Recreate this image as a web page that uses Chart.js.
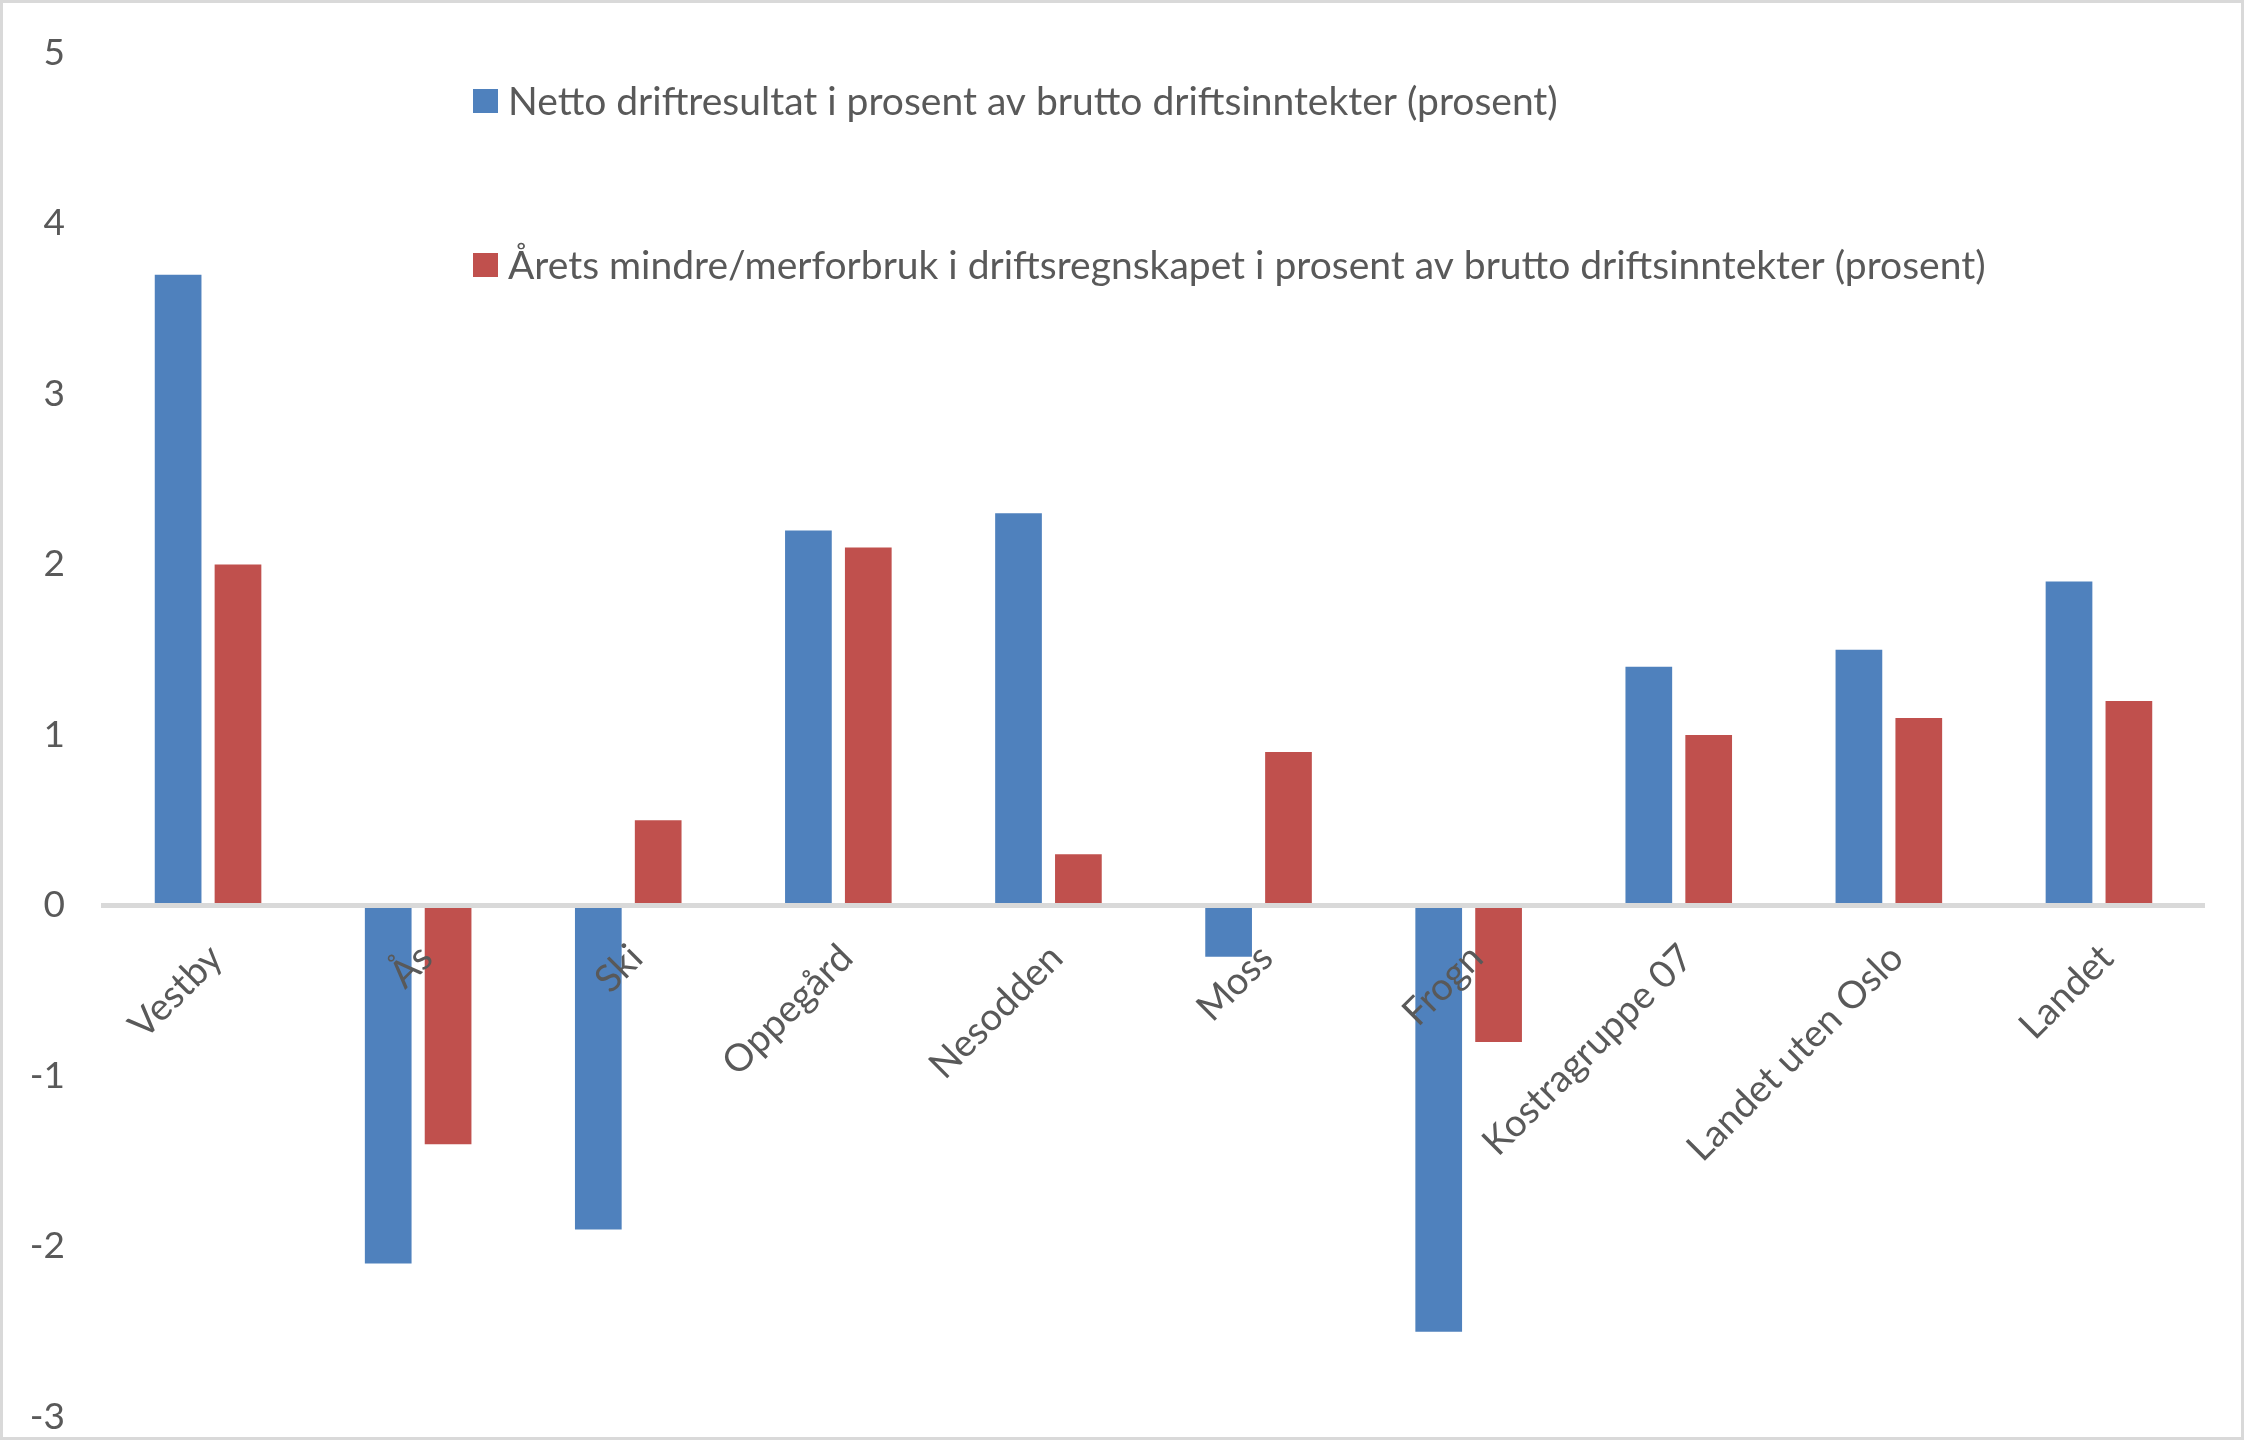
<!DOCTYPE html>
<html>
<head>
<meta charset="utf-8">
<script src="https://cdn.jsdelivr.net/npm/chart.js@4.4.1/dist/chart.umd.min.js"></script>
<style>
  html, body { margin: 0; padding: 0; background: #fff; }
  #wrap { width: 2244px; height: 1440px; box-sizing: border-box; border: 3px solid #d9d9d9; position: relative; }
  #chart { display: block; }
</style>
</head>
<body>
<div id="wrap"><canvas id="chart"></canvas></div>
<script>
// kommuner / grupper
var categories = ['Vestby', 'Ås', 'Ski', 'Oppegård', 'Nesodden', 'Moss', 'Frogn', 'Kostragruppe 07', 'Landet uten Oslo', 'Landet'];
var seriesNames = [
  'Netto driftresultat i prosent av brutto driftsinntekter (prosent)',
  'Årets mindre/merforbruk i driftsregnskapet i prosent av brutto driftsinntekter (prosent)'
];
var nettoDriftsresultat = [3.7, -2.1, -1.9, 2.2, 2.3, -0.3, -2.5, 1.4, 1.5, 1.9];
var mindreMerforbruk = [2.0, -1.4, 0.5, 2.1, 0.3, 0.9, -0.8, 1.0, 1.1, 1.2];
var yTicks = [-3, -2, -1, 0, 1, 2, 3, 4, 5];

var fontFam = 'Lato, "Noto Sans", sans-serif';
var textColor = '#595959';

// legend drawn inside the plot area, like the Excel original
var insideLegend = {
  id: 'insideLegend',
  afterDraw: function(chart) {
    var ctx = chart.ctx;
    var area = chart.chartArea;
    var rows = [48, 212];
    ctx.save();
    ctx.font = '39px ' + fontFam;
    ctx.textBaseline = 'middle';
    chart.data.datasets.forEach(function(ds, i) {
      var x = area.left + 370;
      var y = area.top + rows[i];
      ctx.fillStyle = ds.backgroundColor;
      ctx.fillRect(x, y - 12, 25, 24);
      ctx.fillStyle = textColor;
      ctx.fillText(ds.label, x + 35, y + 1);
    });
    ctx.restore();
  }
};

var ctx = document.getElementById('chart').getContext('2d');
new Chart(ctx, {
  type: 'bar',
  data: {
    labels: categories,
    datasets: [
      { label: seriesNames[0], data: nettoDriftsresultat, backgroundColor: '#4f81bd' },
      { label: seriesNames[1], data: mindreMerforbruk, backgroundColor: '#c0504d' }
    ]
  },
  options: {
    responsive: true,
    maintainAspectRatio: false,
    animation: false,
    categoryPercentage: 0.57,
    barPercentage: 0.78,
    layout: { padding: { left: 26, right: 37, top: 50, bottom: 20 } },
    plugins: {
      legend: { display: false },
      tooltip: { enabled: false }
    },
    scales: {
      x: {
        position: { y: 0 },
        grid: { display: false, drawTicks: false },
        border: { display: true, color: '#d9d9d9', width: 5, z: 1 },
        ticks: {
          z: 1,
          autoSkip: false,
          minRotation: 45,
          maxRotation: 45,
          padding: 30,
          labelOffset: 8,
          color: textColor,
          font: { family: fontFam, size: 38 }
        },
        afterFit: function(scale) {
          scale.height = 0;
          scale.paddingLeft = 0;
          scale.paddingRight = 0;
        }
      },
      y: {
        min: yTicks[0],
        max: yTicks[yTicks.length - 1],
        grid: { display: false, drawTicks: false },
        border: { display: false },
        afterBuildTicks: function(scale) {
          scale.ticks = yTicks.map(function(v) { return { value: v }; });
        },
        afterFit: function(scale) {
          scale.width = 74;
          scale.paddingTop = 0;
          scale.paddingBottom = 0;
        },
        ticks: {
          padding: 38,
          color: textColor,
          font: { family: fontFam, size: 37 }
        }
      }
    }
  },
  plugins: [insideLegend]
});
</script>
</body>
</html>
